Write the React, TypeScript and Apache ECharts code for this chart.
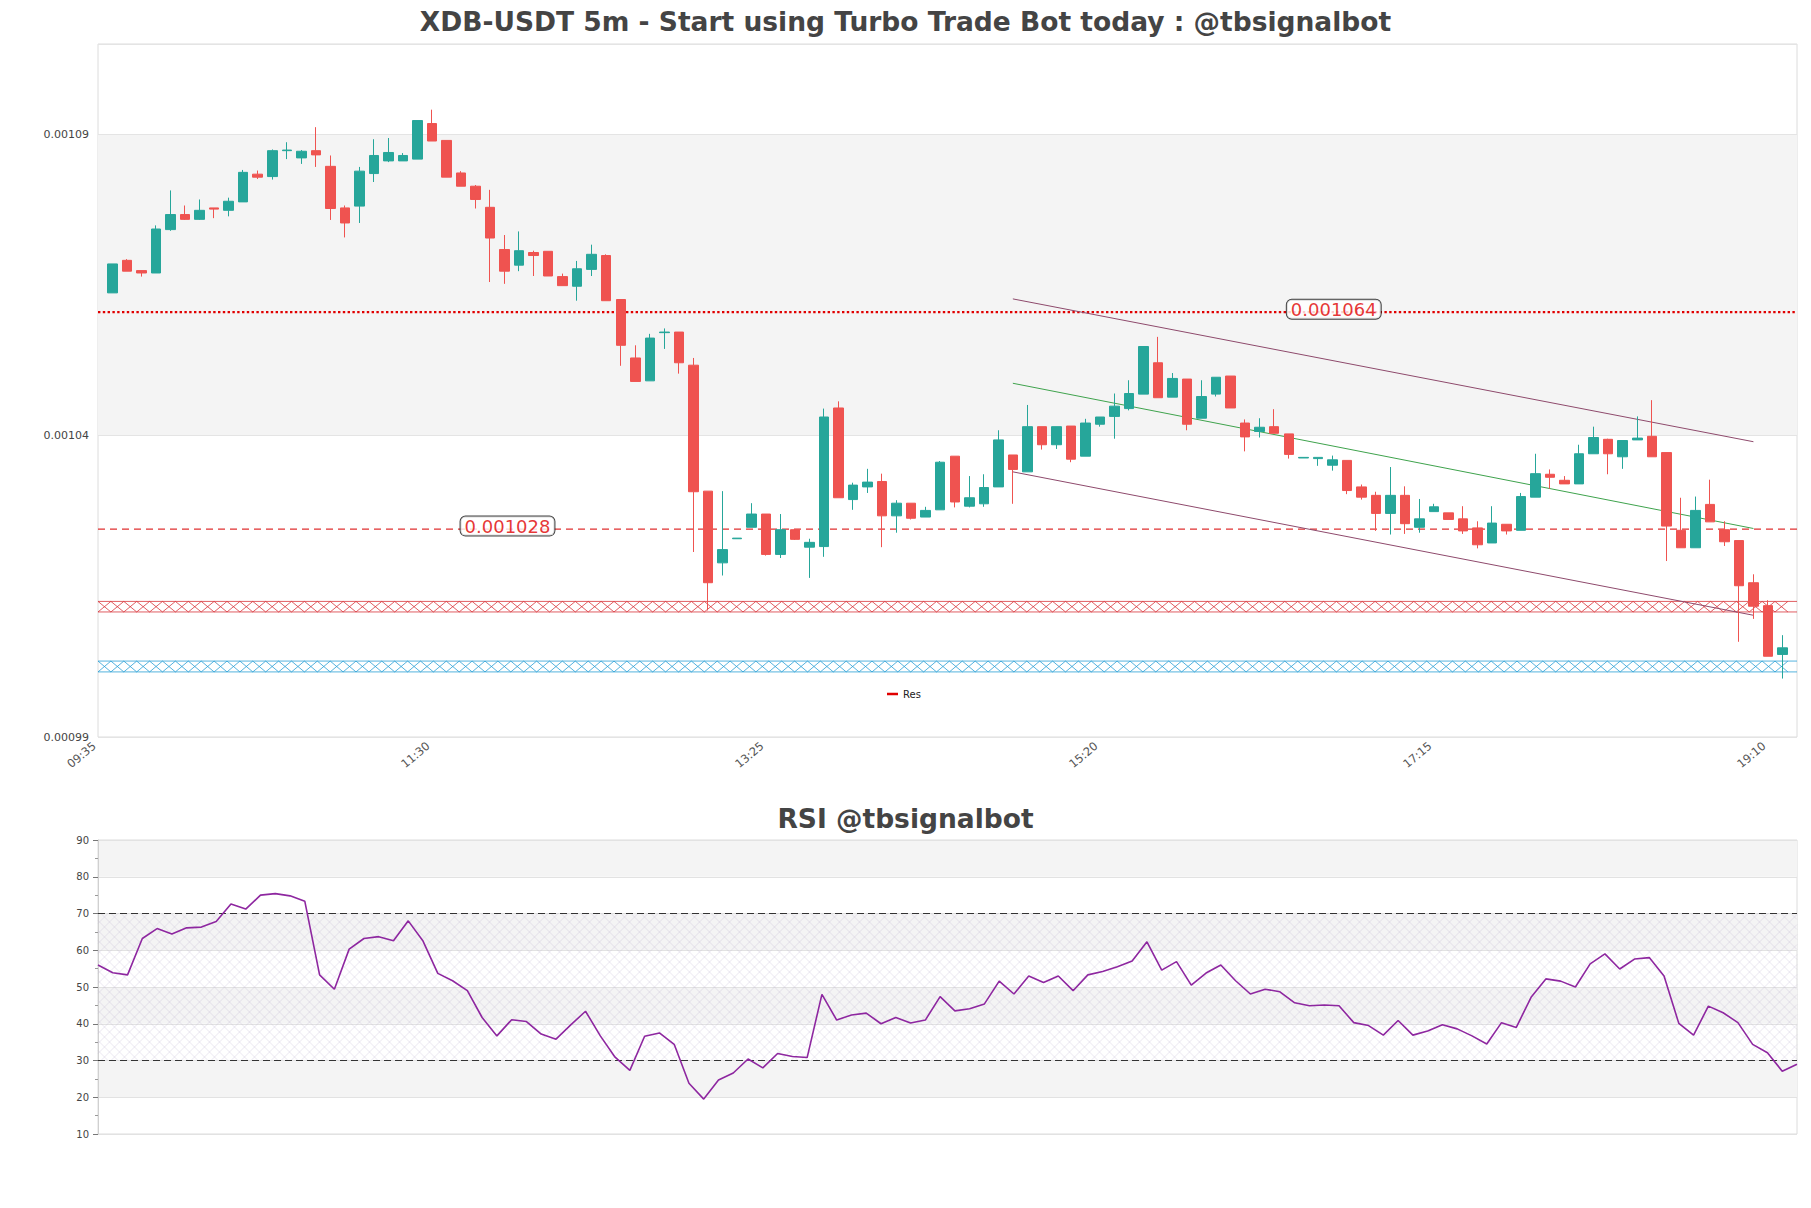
import React, { useEffect, useRef } from 'react';
import * as echarts from 'echarts';

// ---------- data ----------
const xTickLabels = ['09:35', '11:30', '13:25', '15:20', '17:15', '19:10'];
const yTickLabels = ['0.00099', '0.00104', '0.00109'];
const rsiTickStep = 10;

const opens = [
  1067.2e-6, 1072.6e-6, 1070.9e-6, 1070.5e-6, 1077.7e-6, 1080.2e-6, 1079.4e-6, 1081.3e-6, 1080.9e-6, 1082.3e-6,
  1086.9e-6, 1086.5e-6, 1090.8e-6, 1089.6e-6, 1090.8e-6, 1088.2e-6, 1081.3e-6, 1081.6e-6, 1087.0e-6, 1089.1e-6,
  1089.1e-6, 1089.4e-6, 1095.3e-6, 1092.5e-6, 1087.1e-6, 1084.9e-6, 1081.4e-6, 1074.4e-6, 1071.8e-6, 1073.9e-6,
  1074.1e-6, 1069.9e-6, 1068.3e-6, 1071.1e-6, 1073.4e-6, 1066.1e-6, 1056.4e-6, 1052.6e-6, 1060.6e-6, 1060.7e-6,
  1055.2e-6, 1034.3e-6, 1022.4e-6, 1026.4e-6, 1028.3e-6, 1030.5e-6, 1023.8e-6, 1027.9e-6, 1025.0e-6, 1025.1e-6,
  1048.1e-6, 1032.9e-6, 1035.0e-6, 1035.9e-6, 1030.2e-6, 1032.3e-6, 1030.0e-6, 1031.2e-6, 1040.1e-6, 1031.8e-6,
  1032.2e-6, 1035.0e-6, 1040.3e-6, 1037.5e-6, 1045.0e-6, 1042.0e-6, 1045.1e-6, 1040.1e-6, 1045.4e-6, 1046.7e-6,
  1048.0e-6, 1050.4e-6, 1055.6e-6, 1049.9e-6, 1052.9e-6, 1046.4e-6, 1050.4e-6, 1053.4e-6, 1045.6e-6, 1044.2e-6,
  1045.0e-6, 1043.8e-6, 1039.8e-6, 1039.7e-6, 1038.6e-6, 1039.4e-6, 1035.0e-6, 1033.6e-6, 1030.6e-6, 1033.6e-6,
  1028.3e-6, 1030.9e-6, 1030.7e-6, 1029.7e-6, 1028.2e-6, 1025.7e-6, 1028.8e-6, 1027.8e-6, 1033.3e-6, 1037.1e-6,
  1036.1e-6, 1035.5e-6, 1040.5e-6, 1042.9e-6, 1040.0e-6, 1042.8e-6, 1043.4e-6, 1040.7e-6, 1027.8e-6, 1024.9e-6,
  1032.1e-6, 1027.9e-6, 1026.1e-6, 1019.1e-6, 1015.3e-6, 1007.2e-6,
];
const closes = [
  1072.0e-6, 1070.8e-6, 1070.5e-6, 1077.8e-6, 1080.2e-6, 1079.4e-6, 1080.9e-6, 1081.1e-6, 1082.4e-6, 1087.2e-6,
  1086.4e-6, 1090.8e-6, 1090.9e-6, 1090.7e-6, 1090.1e-6, 1081.2e-6, 1078.8e-6, 1087.4e-6, 1090.0e-6, 1090.5e-6,
  1090.0e-6, 1095.8e-6, 1092.4e-6, 1086.4e-6, 1084.9e-6, 1082.7e-6, 1076.3e-6, 1070.8e-6, 1074.2e-6, 1073.4e-6,
  1070.0e-6, 1068.4e-6, 1071.2e-6, 1073.6e-6, 1065.9e-6, 1058.5e-6, 1052.5e-6, 1059.7e-6, 1060.7e-6, 1055.6e-6,
  1034.2e-6, 1019.1e-6, 1024.6e-6, 1026.5e-6, 1030.5e-6, 1023.8e-6, 1027.9e-6, 1026.3e-6, 1025.8e-6, 1046.6e-6,
  1033.2e-6, 1035.3e-6, 1035.8e-6, 1030.2e-6, 1032.3e-6, 1029.8e-6, 1031.1e-6, 1039.1e-6, 1032.5e-6, 1033.2e-6,
  1034.9e-6, 1042.8e-6, 1037.9e-6, 1045.0e-6, 1042.0e-6, 1045.0e-6, 1039.6e-6, 1045.6e-6, 1046.6e-6, 1048.4e-6,
  1050.5e-6, 1058.3e-6, 1049.8e-6, 1053.0e-6, 1045.4e-6, 1050.0e-6, 1053.2e-6, 1048.1e-6, 1043.3e-6, 1044.9e-6,
  1043.9e-6, 1040.4e-6, 1039.9e-6, 1039.9e-6, 1039.5e-6, 1034.4e-6, 1033.3e-6, 1030.6e-6, 1033.6e-6, 1028.9e-6,
  1029.7e-6, 1031.7e-6, 1029.6e-6, 1027.7e-6, 1025.4e-6, 1029.0e-6, 1027.7e-6, 1033.4e-6, 1037.2e-6, 1036.6e-6,
  1035.5e-6, 1040.5e-6, 1043.2e-6, 1040.5e-6, 1042.7e-6, 1043.1e-6, 1040.0e-6, 1028.5e-6, 1024.9e-6, 1031.1e-6,
  1029.2e-6, 1025.9e-6, 1018.6e-6, 1015.2e-6, 1006.9e-6, 1008.3e-6,
];
const lows = [
  1067.2e-6, 1070.8e-6, 1069.9e-6, 1070.5e-6, 1077.5e-6, 1079.3e-6, 1079.3e-6, 1079.6e-6, 1079.9e-6, 1082.3e-6,
  1086.1e-6, 1086.0e-6, 1089.4e-6, 1088.6e-6, 1088.1e-6, 1079.3e-6, 1076.4e-6, 1078.8e-6, 1085.6e-6, 1088.9e-6,
  1089.1e-6, 1089.4e-6, 1092.4e-6, 1086.4e-6, 1084.9e-6, 1081.2e-6, 1069.0e-6, 1068.7e-6, 1070.8e-6, 1070.0e-6,
  1070.0e-6, 1068.4e-6, 1065.9e-6, 1070.0e-6, 1065.9e-6, 1055.1e-6, 1052.5e-6, 1052.6e-6, 1057.9e-6, 1053.8e-6,
  1024.2e-6, 1014.5e-6, 1020.3e-6, 1026.4e-6, 1028.3e-6, 1023.6e-6, 1023.2e-6, 1026.2e-6, 1019.9e-6, 1023.4e-6,
  1033.2e-6, 1031.2e-6, 1034.0e-6, 1025.0e-6, 1027.4e-6, 1029.6e-6, 1030.0e-6, 1031.2e-6, 1031.6e-6, 1031.6e-6,
  1031.7e-6, 1035.0e-6, 1032.2e-6, 1037.5e-6, 1041.2e-6, 1041.3e-6, 1039.1e-6, 1040.1e-6, 1045.0e-6, 1043.0e-6,
  1047.7e-6, 1050.4e-6, 1049.8e-6, 1049.9e-6, 1044.4e-6, 1046.4e-6, 1050.0e-6, 1048.1e-6, 1040.9e-6, 1043.2e-6,
  1043.9e-6, 1039.7e-6, 1039.8e-6, 1038.5e-6, 1037.7e-6, 1033.8e-6, 1032.9e-6, 1027.7e-6, 1027.1e-6, 1027.2e-6,
  1027.4e-6, 1030.9e-6, 1029.6e-6, 1027.2e-6, 1024.8e-6, 1025.7e-6, 1027.1e-6, 1027.8e-6, 1033.3e-6, 1034.7e-6,
  1035.5e-6, 1035.5e-6, 1040.5e-6, 1037.1e-6, 1038.0e-6, 1042.8e-6, 1040.0e-6, 1022.7e-6, 1024.9e-6, 1024.9e-6,
  1029.2e-6, 1025.2e-6, 1009.3e-6, 1013.1e-6, 1006.9e-6, 1003.2e-6,
];
const highs = [
  1072.0e-6, 1072.8e-6, 1070.9e-6, 1078.4e-6, 1084.2e-6, 1081.7e-6, 1082.7e-6, 1081.3e-6, 1083.0e-6, 1087.6e-6,
  1087.5e-6, 1091.0e-6, 1092.2e-6, 1090.9e-6, 1094.7e-6, 1090.0e-6, 1081.7e-6, 1088.1e-6, 1092.7e-6, 1092.9e-6,
  1090.4e-6, 1095.8e-6, 1097.6e-6, 1092.5e-6, 1087.4e-6, 1085.1e-6, 1084.3e-6, 1076.8e-6, 1077.4e-6, 1074.2e-6,
  1074.1e-6, 1070.4e-6, 1072.5e-6, 1075.2e-6, 1073.6e-6, 1066.1e-6, 1058.5e-6, 1060.4e-6, 1061.3e-6, 1060.7e-6,
  1056.4e-6, 1034.3e-6, 1034.3e-6, 1026.5e-6, 1032.3e-6, 1030.5e-6, 1030.5e-6, 1028.0e-6, 1026.4e-6, 1048.0e-6,
  1049.2e-6, 1035.7e-6, 1038.0e-6, 1037.2e-6, 1032.8e-6, 1032.3e-6, 1031.7e-6, 1039.3e-6, 1040.1e-6, 1036.8e-6,
  1037.1e-6, 1044.4e-6, 1040.3e-6, 1048.6e-6, 1045.0e-6, 1045.0e-6, 1045.1e-6, 1046.3e-6, 1046.6e-6, 1050.5e-6,
  1052.7e-6, 1058.3e-6, 1059.9e-6, 1053.9e-6, 1052.9e-6, 1052.7e-6, 1053.2e-6, 1053.4e-6, 1046.2e-6, 1046.4e-6,
  1047.9e-6, 1043.8e-6, 1039.9e-6, 1039.9e-6, 1040.2e-6, 1039.4e-6, 1035.4e-6, 1034.2e-6, 1038.3e-6, 1035.1e-6,
  1033.0e-6, 1032.2e-6, 1030.7e-6, 1031.8e-6, 1029.3e-6, 1031.8e-6, 1028.8e-6, 1034.0e-6, 1040.5e-6, 1037.9e-6,
  1036.8e-6, 1042.0e-6, 1045.0e-6, 1043.0e-6, 1042.7e-6, 1046.7e-6, 1049.4e-6, 1040.7e-6, 1033.2e-6, 1033.4e-6,
  1036.2e-6, 1029.3e-6, 1026.1e-6, 1020.5e-6, 1016.2e-6, 1010.4e-6,
];

const rsiValues = [
  56.0, 53.9, 53.3, 63.2, 65.9, 64.4, 66.1, 66.3, 67.8, 72.6, 71.2, 75.0, 75.4, 74.8, 73.3, 53.3, 49.4, 60.3, 63.2, 63.7,
  62.6, 68.0, 62.5, 53.7, 51.7, 49.0, 41.7, 36.7, 41.1, 40.6, 37.2, 35.8, 39.7, 43.4, 36.7, 30.9, 27.3, 36.6, 37.5, 34.4,
  23.8, 19.5, 24.7, 26.6, 30.4, 28.0, 31.9, 31.1, 30.8, 48.0, 41.0, 42.4, 42.9, 40.0, 41.7, 40.2, 41.0, 47.4, 43.5, 44.1,
  45.4, 51.6, 48.1, 53.0, 51.2, 53.0, 49.0, 53.3, 54.2, 55.5, 57.1, 62.3, 54.6, 56.9, 50.5, 53.8, 56.0, 51.7, 48.1, 49.4,
  48.7, 45.7, 44.9, 45.1, 44.9, 40.3, 39.5, 36.9, 40.9, 36.9, 38.0, 39.7, 38.6, 36.7, 34.5, 40.3, 39.0, 47.2, 52.2, 51.6,
  50.0, 56.3, 59.0, 54.9, 57.6, 58.0, 53.0, 40.1, 36.9, 44.8, 43.0, 40.3, 34.4, 32.1, 27.1, 29.0,
];

// horizontal levels
const resLevel = 1064e-6;
const supLevel = 1028e-6;
const levelLabels = ['0.001064', '0.001028'];

// support / resistance zones (hatched)
const zoneLows = [1014.25e-6, 1004.3e-6];
const zoneHighs = [1016.0e-6, 1006.1e-6];
const zoneColors = ['#d8353a', '#2a9fd6'];

// descending channel (x in candle slots, 09:35 = 0)
const channelX = [63, 114];
const channelUpper = [1066.2e-6, 1042.5e-6];
const channelMid = [1052.2e-6, 1028.1e-6];
const channelLower = [1037.5e-6, 1013.7e-6];

// RSI levels
const rsiOverbought = 70;
const rsiOversold = 30;

// ---------- layout constants ----------
const X_MIN = 0;
const X_MAX = 117;
const X_STEP = 23;
const PRICE_MIN = 993.5e-6;
const PRICE_MAX = 1108.5e-6;
const PRICE_STEP = 50e-6;
const FONT = 'DejaVu Sans';

const candleData = opens.map((o, i) => [i + 1, o, closes[i], lows[i], highs[i]]);
const rsiData = rsiValues.map((v, i) => [i, v]);

function zoneRender(params: any, api: any) {
  const idx = api.value(0);
  const lo = api.value(1);
  const hi = api.value(2);
  const a = api.coord([X_MIN, hi]);
  const b = api.coord([X_MAX, lo]);
  const color = zoneColors[idx];
  const d = 12.9;
  const ptsA: number[][] = [];
  const ptsB: number[][] = [];
  let k = 0;
  for (let x = a[0]; x <= b[0] + 0.01; x += d, k++) {
    ptsA.push([x, k % 2 ? b[1] : a[1]]);
    ptsB.push([x, k % 2 ? a[1] : b[1]]);
  }
  const st = { stroke: color, lineWidth: 0.8, fill: 'none' };
  return {
    type: 'group',
    silent: true,
    children: [
      { type: 'line', shape: { x1: a[0], y1: a[1], x2: b[0], y2: a[1] }, style: st },
      { type: 'line', shape: { x1: a[0], y1: b[1], x2: b[0], y2: b[1] }, style: st },
      { type: 'polyline', shape: { points: ptsA }, style: st },
      { type: 'polyline', shape: { points: ptsB }, style: st },
    ],
  };
}

function hatchRender(params: any, api: any) {
  const a = api.coord([api.value(0), api.value(2)]);
  const b = api.coord([rsiValues.length - 1, api.value(1)]);
  const x0 = a[0], y0 = a[1];
  const W = b[0] - a[0], H = b[1] - a[1];
  const s = 10;
  const children: any[] = [];
  const st = { stroke: 'rgba(190,182,210,0.55)', lineWidth: 0.6 };
  for (let c = -H; c <= W; c += s) {
    const t0 = Math.max(0, -c), t1 = Math.min(H, W - c);
    if (t1 > t0) children.push({ type: 'line', shape: { x1: x0 + c + t0, y1: y0 + t0, x2: x0 + c + t1, y2: y0 + t1 }, style: st });
  }
  for (let c = 0; c <= W + H; c += s) {
    const t0 = Math.max(0, c - W), t1 = Math.min(H, c);
    if (t1 > t0) children.push({ type: 'line', shape: { x1: x0 + c - t0, y1: y0 + t0, x2: x0 + c - t1, y2: y0 + t1 }, style: st });
  }
  return { type: 'group', silent: true, children };
}

const levelLabelStyle = {
  show: true,
  position: 'inside',
  offset: [0, -3],
  fontSize: 18,
  fontFamily: FONT,
  color: '#e00000',
  backgroundColor: '#ffffff',
  borderColor: '#111111',
  borderWidth: 1,
  borderRadius: 5,
  padding: [1, 4, 0, 4],
};

const option: any = {
  animation: false,
  backgroundColor: '#ffffff',
  textStyle: { fontFamily: FONT },
  title: [
    {
      text: 'XDB-USDT 5m - Start using Turbo Trade Bot today : @tbsignalbot',
      left: 'center',
      top: 3,
      textStyle: { fontSize: 26.5, fontWeight: 'bold', color: '#444444', fontFamily: FONT },
    },
    {
      text: 'RSI @tbsignalbot',
      left: 'center',
      top: 800,
      textStyle: { fontSize: 26.5, fontWeight: 'bold', color: '#444444', fontFamily: FONT },
    },
  ],
  legend: {
    data: [{ name: 'Res', icon: 'rect' }],
    left: 882,
    top: 684,
    itemWidth: 11,
    itemHeight: 2.5,
    itemGap: 5,
    selectedMode: false,
    textStyle: { fontSize: 10, color: '#222222', fontFamily: FONT },
  },
  grid: [
    { left: 98, top: 44, right: 14, height: 693, show: true, borderColor: '#dcdcdc', borderWidth: 1, backgroundColor: 'transparent' },
    { left: 98, top: 840, right: 14, height: 294, show: true, borderColor: '#dcdcdc', borderWidth: 1, backgroundColor: 'transparent' },
  ],
  xAxis: [
    {
      type: 'value',
      gridIndex: 0,
      min: X_MIN,
      max: X_MAX,
      interval: X_STEP,
      axisLine: { show: false },
      axisTick: { show: false },
      splitLine: { show: false },
      axisLabel: {
        rotate: 40,
        fontSize: 11.5,
        color: '#555555',
        margin: 4,
        padding: [0, 5, 0, 0],
        showMaxLabel: false,
        showMinLabel: true,
        formatter: (v: number) => (v % X_STEP === 0 ? xTickLabels[v / X_STEP] ?? '' : ''),
      },
    },
    {
      type: 'value',
      gridIndex: 1,
      min: 0,
      max: rsiValues.length - 1,
      axisLine: { show: false },
      axisTick: { show: false },
      splitLine: { show: false },
      axisLabel: { show: false },
    },
  ],
  yAxis: [
    {
      type: 'value',
      gridIndex: 0,
      position: 'left',
      min: PRICE_MIN,
      max: PRICE_MAX,
      show: false,
      splitLine: { show: false },
    },
    {
      type: 'value',
      gridIndex: 0,
      position: 'left',
      min: 0,
      max: PRICE_MAX - PRICE_MIN,
      interval: PRICE_STEP,
      axisLine: { show: false },
      axisTick: { show: false },
      splitLine: { show: true, lineStyle: { color: '#e4e4e4', width: 1 } },
      splitArea: { show: true, areaStyle: { color: ['rgba(255,255,255,0)', '#f4f4f4'] } },
      axisLabel: {
        fontSize: 11,
        color: '#444444',
        margin: 9,
        showMaxLabel: false,
        formatter: (v: number) => {
          const k = Math.round(v / PRICE_STEP);
          return Math.abs(v - k * PRICE_STEP) < 1e-9 ? yTickLabels[k] ?? '' : '';
        },
      },
    },
    {
      type: 'value',
      gridIndex: 1,
      position: 'left',
      min: 10,
      max: 90,
      interval: rsiTickStep,
      axisLine: { show: true, lineStyle: { color: '#d0d0d0' } },
      axisTick: { show: true, length: 5, lineStyle: { color: '#777777' } },
      minorTick: { show: true, splitNumber: 2, length: 3, lineStyle: { color: '#999999' } },
      splitLine: { show: true, lineStyle: { color: '#e2e2e2' } },
      splitArea: { show: true, areaStyle: { color: ['rgba(255,255,255,0)', '#f4f4f4'] } },
      axisLabel: { fontSize: 10, color: '#444444', margin: 9 },
    },
  ],
  series: [
    {
      type: 'custom',
      name: 'zones',
      xAxisIndex: 0,
      yAxisIndex: 0,
      z: 3,
      silent: true,
      renderItem: zoneRender,
      encode: { x: 0, y: [1, 2] },
      data: zoneLows.map((lo, i) => [i, lo, zoneHighs[i]]),
    },
    {
      type: 'line',
      name: 'Res',
      xAxisIndex: 0,
      yAxisIndex: 0,
      z: 3,
      symbol: 'none',
      color: '#e00000',
      lineStyle: { color: '#e00000', width: 2.4, type: 'dotted' },
      data: [[X_MIN, resLevel], [X_MAX, resLevel]],
      silent: true,
    },
    {
      type: 'line',
      name: 'Sup',
      xAxisIndex: 0,
      yAxisIndex: 0,
      z: 3,
      symbol: 'none',
      lineStyle: { color: '#e03030', width: 1.3, type: [7, 5] },
      data: [[X_MIN, supLevel], [X_MAX, supLevel]],
      silent: true,
    },
    {
      type: 'line',
      name: 'upper',
      xAxisIndex: 0,
      yAxisIndex: 0,
      z: 4,
      symbol: 'none',
      lineStyle: { color: '#8e4a6c', width: 1 },
      data: channelX.map((x, i) => [x, channelUpper[i]]),
      silent: true,
    },
    {
      type: 'line',
      name: 'mid',
      xAxisIndex: 0,
      yAxisIndex: 0,
      z: 4,
      symbol: 'none',
      lineStyle: { color: '#3fa34d', width: 1 },
      data: channelX.map((x, i) => [x, channelMid[i]]),
      silent: true,
    },
    {
      type: 'line',
      name: 'lower',
      xAxisIndex: 0,
      yAxisIndex: 0,
      z: 4,
      symbol: 'none',
      lineStyle: { color: '#8e4a6c', width: 1 },
      data: channelX.map((x, i) => [x, channelLower[i]]),
      silent: true,
    },
    {
      type: 'candlestick',
      name: 'XDB-USDT',
      xAxisIndex: 0,
      yAxisIndex: 0,
      z: 5,
      barWidth: 10,
      itemStyle: {
        color: '#26a69a',
        color0: '#ef5350',
        borderColor: '#26a69a',
        borderColor0: '#ef5350',
        borderWidth: 1,
      },
      data: candleData,
    },
    {
      type: 'scatter',
      name: 'levelLabels',
      xAxisIndex: 0,
      yAxisIndex: 0,
      z: 8,
      symbolSize: 1,
      itemStyle: { color: 'rgba(0,0,0,0)' },
      silent: true,
      data: [
        { value: [85.1, resLevel], label: { ...levelLabelStyle, formatter: levelLabels[0] } },
        { value: [28.2, supLevel], label: { ...levelLabelStyle, formatter: levelLabels[1] } },
      ],
    },
    {
      type: 'custom',
      name: 'rsiHatch',
      xAxisIndex: 1,
      yAxisIndex: 2,
      z: 1,
      silent: true,
      renderItem: hatchRender,
      encode: { x: 0, y: [1, 2] },
      data: [[0, rsiOversold, rsiOverbought]],
    },
    {
      type: 'line',
      name: 'RSI',
      xAxisIndex: 1,
      yAxisIndex: 2,
      z: 5,
      symbol: 'none',
      lineStyle: { color: '#8e27a0', width: 1.6 },
      itemStyle: { color: '#8e27a0' },
      data: rsiData,
      markLine: {
        silent: true,
        symbol: ['none', 'none'],
        label: { show: false },
        lineStyle: { color: '#333333', width: 1.2, type: [7, 4] },
        data: [{ yAxis: rsiOverbought }, { yAxis: rsiOversold }],
      },
    },
  ],
};

export default function App() {
  const ref = useRef<HTMLDivElement>(null);
  useEffect(() => {
    if (!ref.current) return;
    const chart = echarts.init(ref.current, null, { renderer: 'svg' });
    chart.setOption(option);
    return () => chart.dispose();
  }, []);
  return (
    <div
      ref={ref}
      style={{ position: 'absolute', left: 0, top: 0, width: 1811, height: 1208, background: '#ffffff' }}
    />
  );
}
